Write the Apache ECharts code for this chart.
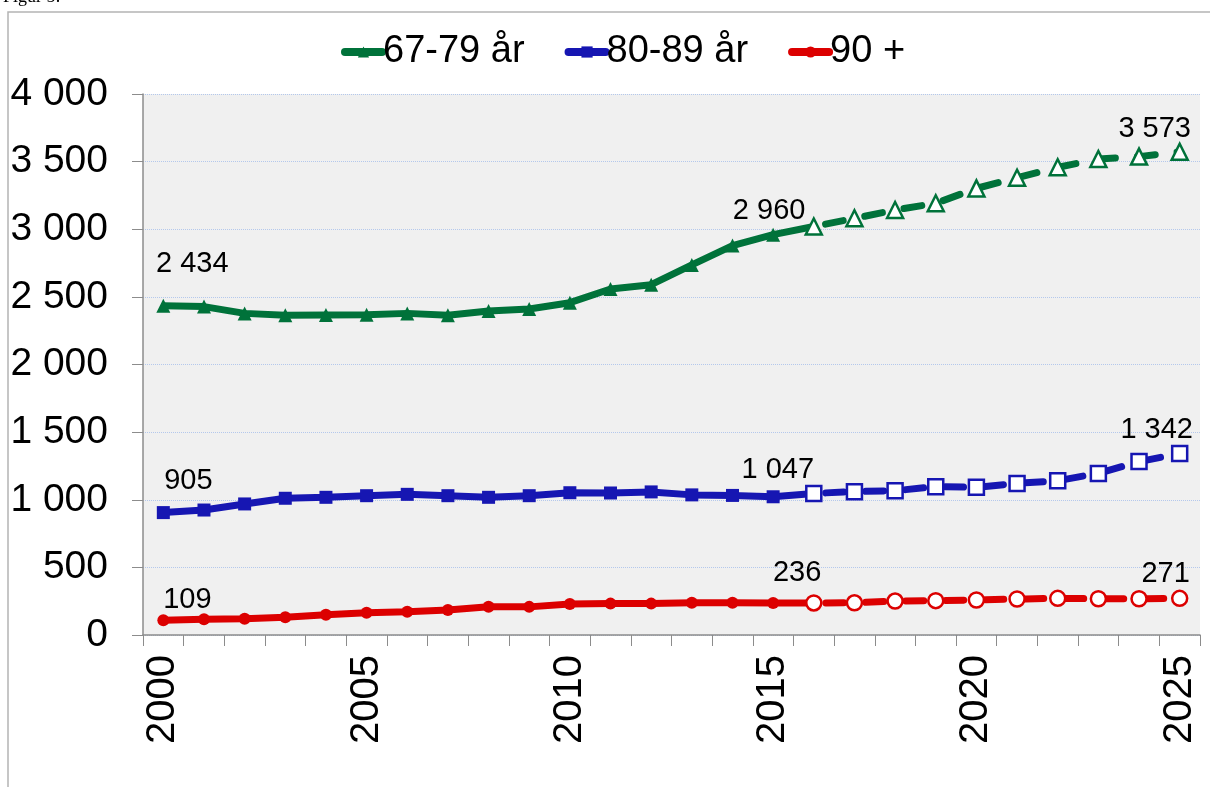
<!DOCTYPE html>
<html>
<head>
<meta charset="utf-8">
<script src="https://cdn.jsdelivr.net/npm/echarts@6/dist/echarts.min.js"></script>
<style>
  html, body { margin: 0; padding: 0; background: #fff; }
  #lineChart { width: 1213px; height: 787px; }
</style>
</head>
<body>
<div id="lineChart"></div>
<script>
// kategorier (år)
var years = ['2000', '2001', '2002', '2003', '2004', '2005', '2006', '2007', '2008', '2009',
  '2010', '2011', '2012', '2013', '2014', '2015', '2016', '2017', '2018', '2019',
  '2020', '2021', '2022', '2023', '2024', '2025']

var names = ['67-79 år', '80-89 år', '90 +']

var age6779 = [2434, 2428, 2378, 2364, 2366, 2368, 2378, 2364, 2396, 2410,
  2457, 2558, 2590, 2736, 2879, 2960, 3020, 3081, 3142, 3192,
  3302, 3381, 3458, 3519, 3537, 3573]
var age8089 = [905, 924, 969, 1011, 1018, 1030, 1040, 1030, 1018, 1030,
  1052, 1050, 1058, 1036, 1032, 1022, 1047, 1060, 1067, 1097,
  1092, 1121, 1141, 1195, 1282, 1342]
var age90 = [109, 117, 121, 131, 150, 165, 172, 185, 209, 208,
  229, 232, 232, 238, 239, 236, 237, 238, 251, 254,
  259, 266, 271, 268, 268, 271]

var yTicks = [0, 500, 1000, 1500, 2000, 2500, 3000, 3500, 4000]

// första prognosår
var firstProg = 16

var font = "'Liberation Sans', Arial, sans-serif"

function fmt (v) {
  return String(v).replace(/\B(?=(\d{3})+(?!\d))/g, ' ')
}

function buildSeries (name, values, color, symbol, size, hollowSize, labels) {
  function item (v, i) {
    var d = { value: v }
    if (labels[i]) {
      d.label = {
        show: true,
        position: 'inside',
        offset: labels[i],
        color: '#000',
        fontSize: 29,
        fontFamily: font,
        formatter: function (p) { return fmt(p.value) }
      }
    }
    return d
  }
  var actual = values.map(function (v, i) {
    if (i > firstProg) return null
    var d = item(v, i)
    if (i === firstProg) { d.symbol = 'none'; delete d.label }
    return d
  })
  var prog = values.map(function (v, i) {
    return i >= firstProg ? item(v, i) : null
  })
  return [
    {
      name: name,
      type: 'line',
      data: actual,
      symbol: symbol,
      symbolSize: size,
      showAllSymbol: true,
      lineStyle: { color: color, width: 7 },
      itemStyle: { color: color },
      z: 3
    },
    {
      name: name,
      type: 'line',
      data: prog,
      symbol: symbol,
      symbolSize: hollowSize,
      showAllSymbol: true,
      lineStyle: { color: color, width: 7, type: [18, 22], cap: 'round', dashOffset: -12 },
      itemStyle: { color: '#fff', borderColor: color, borderWidth: 2.5 },
      z: 4
    }
  ]
}

var greenLabels = { 0: [29, -42], 15: [-4, -24], 25: [-25, -23] }
var blueLabels = { 0: [25, -32], 16: [-36, -23], 25: [-23, -23] }
var redLabels = { 0: [24, -20], 15: [24, -30], 25: [-14, -24] }

var series = []
  .concat(buildSeries(names[0], age6779, '#00723a', 'triangle', 14, 16, greenLabels))
  .concat(buildSeries(names[1], age8089, '#1616b2', 'rect', 13, 15, blueLabels))
  .concat(buildSeries(names[2], age90, '#dc0000', 'circle', 12, 15, redLabels))

var option = {
  animation: false,
  backgroundColor: '#fff',
  textStyle: { fontFamily: font },
  graphic: [
    {
      type: 'text', left: 3, top: -12,
      style: { text: 'Figur 5:', font: "18px 'Liberation Serif', serif", fill: '#000' }
    },
    {
      type: 'polyline',
      shape: { points: [[8, 800], [8, 12], [1210, 12]] },
      style: { stroke: '#b4b4b4', lineWidth: 1.5, fill: null }
    }
  ],
  legend: {
    data: names,
    left: 336,
    top: 28,
    itemWidth: 37,
    itemHeight: 14,
    itemGap: 40,
    lineStyle: { width: 8, cap: 'round' },
    textStyle: { fontSize: 38, color: '#000', fontFamily: font, padding: [0, 0, 0, -4] }
  },
  grid: {
    left: 143,
    right: 13,
    top: 94,
    bottom: 152,
    show: true,
    backgroundColor: '#f0f0f0',
    borderWidth: 0
  },
  xAxis: {
    type: 'category',
    data: years,
    boundaryGap: true,
    axisLine: { lineStyle: { color: '#8c8c8c', width: 1.5 } },
    axisTick: { show: true, interval: 0, length: 11, lineStyle: { color: '#8c8c8c' } },
    axisLabel: {
      interval: 4,
      rotate: 90,
      margin: 20,
      fontSize: 40,
      color: '#000',
      fontFamily: font
    },
    splitLine: { show: false }
  },
  yAxis: {
    type: 'value',
    min: yTicks[0],
    max: yTicks[yTicks.length - 1],
    interval: 500,
    axisLine: { show: true, lineStyle: { color: '#8c8c8c', width: 1.5 } },
    axisTick: { show: true, length: 11, lineStyle: { color: '#8c8c8c' } },
    axisLabel: {
      margin: 35,
      fontSize: 39,
      color: '#000',
      fontFamily: font,
      formatter: function (v) { return fmt(v) }
    },
    splitLine: { lineStyle: { color: '#b4c8ec', type: 'dotted', width: 1 } }
  },
  series: series
}

var myLineChart = echarts.init(document.getElementById('lineChart'))
myLineChart.setOption(option)
</script>
</body>
</html>
